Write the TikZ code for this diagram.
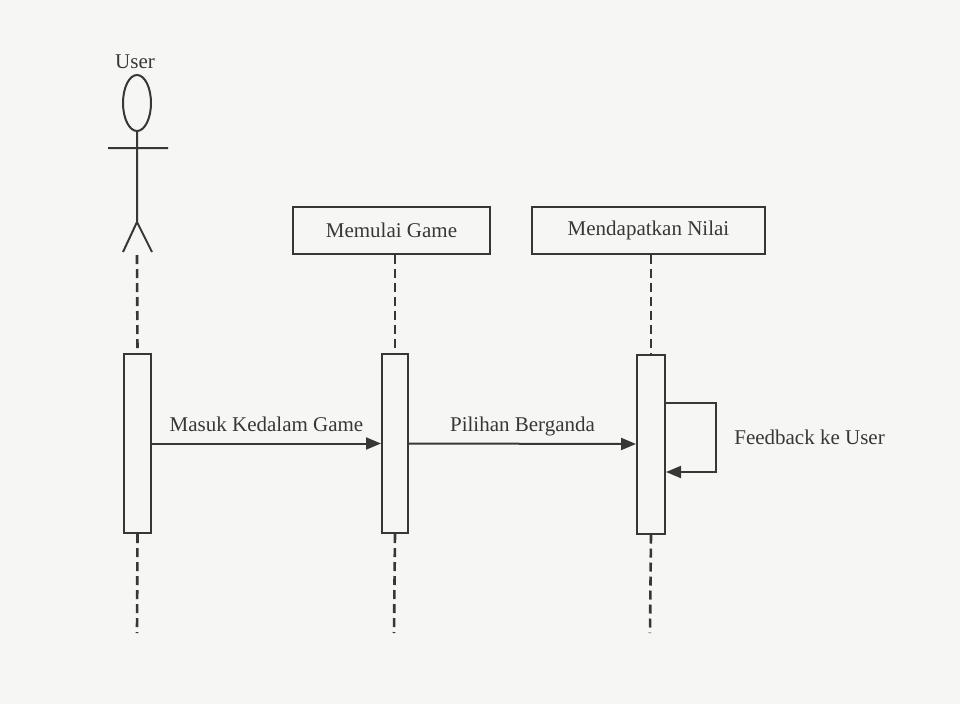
\documentclass[tikz,border=0pt]{standalone}
\usepackage{fontspec}
\setmainfont{Liberation Serif}
\usetikzlibrary{arrows.meta,positioning}
\definecolor{ink}{RGB}{55,55,55}
\definecolor{paper}{RGB}{246,246,244}
\tikzset{
  objbox/.style={draw=ink, line width=2pt, minimum height=47pt, inner sep=0pt},
  actbox/.style={draw=ink, line width=2pt, fill=paper, minimum width=27pt, minimum height=179pt, inner sep=0pt},
  lifeline/.style={draw=ink, line width=2.6pt, dash pattern=on 9pt off 5pt},
  msg/.style={draw=ink, line width=2pt, -{Triangle[length=15pt,width=12pt]}},
  msglabel/.style={above=11pt, inner sep=0pt, text depth=0pt},
}
\begin{document}
\begin{tikzpicture}[x=1pt,y=-1pt,font=\fontsize{21}{25}\selectfont,text=ink]
      \useasboundingbox[fill=paper] (0,0) rectangle (960,704);

      % ACTOR
      \draw[ink, line width=2pt] (137,103) ellipse [x radius=14pt, y radius=28pt];
      \draw[ink, line width=2pt]
      (137,131) -- (137,222)
      (108,148) -- (168,148)
      (123,252) -- (137,222) -- (152,252)
      ;
      \node (user) at (135,62) {User};
      \coordinate (ufoot) at (137,255);
      \coordinate (uend) at (137,633);

      % OBJECTS
      \node[objbox, minimum width=197pt] (mulai) at (391.5,230) {Memulai Game};
      \node[objbox, minimum width=233pt] (nilai) at (648.5,230) {Mendapatkan Nilai};
      \coordinate (mend) at (394,633);
      \coordinate (nend) at (650,633);

      % ACTIVATIONS
      \node[actbox] (uact) at (137.5,443.5) {};
      \node[actbox, minimum width=26pt] (mact) at (395,443.5) {};
      \node[actbox, minimum width=28pt] (nact) at (651,444) {};

      % LIFELINES
      \draw[lifeline] (ufoot) -- (uact.north);
      \draw[lifeline] (uact.south) -- (uend);
      \draw[lifeline] (mulai.south -| mact) -- (mact.north);
      \draw[lifeline] (mact.south) -- (mend);
      \draw[lifeline] (nilai.south -| nact) -- (nact.north);
      \draw[lifeline] (nact.south) -- (nend);

      % MESSAGES
      \draw[msg] (uact.east) -- node[msglabel] {Masuk Kedalam Game} (mact.west);
      \draw[msg] (mact.east) -- node[msglabel] {Pilihan Berganda} (nact.west);
      \draw[msg] ([yshift=41pt]nact.east) -- ++(50,0)
      -- node[right=14pt] {Feedback ke User} ++(0,69)
      -- ([yshift=-28pt]nact.east);
\end{tikzpicture}
\end{document}
